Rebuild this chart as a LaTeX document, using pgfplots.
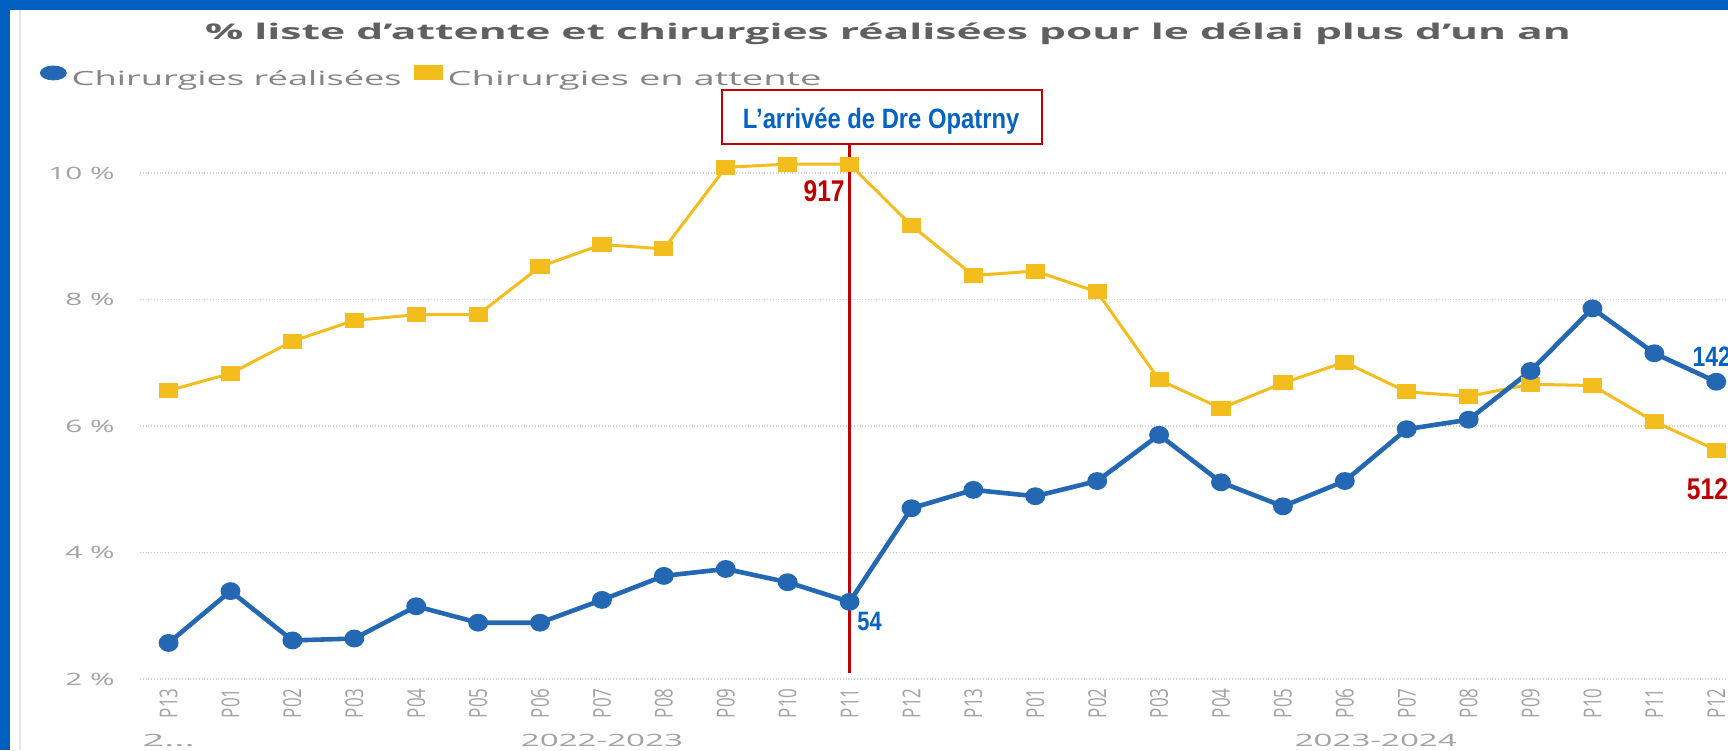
\documentclass[border=0pt]{standalone}
\usepackage{pgfplots}
\pgfplotsset{compat=1.18}
\usepackage{graphicx}
\usepackage{fontspec}
\setmainfont{Open Sans}
\newfontfamily\arialf{Liberation Sans}
\definecolor{frameblue}{HTML}{0060C0}
\definecolor{bluec}{HTML}{2468B4}
\definecolor{yellowc}{HTML}{F2BD1D}
\definecolor{annred}{HTML}{C00000}
\definecolor{annblue}{HTML}{0563C1}
\definecolor{titlegray}{HTML}{606060}
\definecolor{leggray}{HTML}{858585}
\definecolor{tickgray}{HTML}{A3A3A3}
\newcommand\fitw[2]{\resizebox{#1}{\height}{#2}}
\newcommand\yl[1]{\scalebox{1.75}[1]{#1 \%}}
\newcommand\xl[1]{\scalebox{1}[1.45]{#1}}
\newcommand\nar[1]{\scalebox{0.82}[1]{#1}}
\begin{document}
\begin{tikzpicture}
\useasboundingbox (0,0) rectangle (864pt,375pt);
\fill[white] (0,0) rectangle (864pt,375pt);
\fill[frameblue] (0,0) rectangle (5pt,375pt);
\fill[frameblue] (0,370pt) rectangle (864pt,375pt);
\draw[black!10, line width=1pt] (10pt,0) -- (10pt,370pt);
\node[anchor=base, text=titlegray, inner sep=0pt] at (444pt,355pt)
  {\fitw{683pt}{\fontsize{10.8pt}{13pt}\selectfont\bfseries \% liste d'attente et chirurgies réalisées pour le délai plus d'un an}};
\begin{axis}[
  at={(70pt,35.5pt)}, anchor=south west,
  scale only axis, width=794pt, height=253pt,
  xmin=-0.462, xmax=25.19, ymin=2, ymax=10,
  clip=false,
  axis line style={draw=none}, tick style={draw=none}, major tick length=0pt,
  ymajorgrids, major grid style={black!18, densely dotted, line width=0.9pt},
  ytick={2,4,6,8,10},
  yticklabels={\yl{2},\yl{4},\yl{6},\yl{8},\yl{10}},
  yticklabel style={anchor=east, inner sep=0pt, xshift=-12.5pt, text=tickgray, font=\fontsize{8.5pt}{10pt}\selectfont},
  xtick={0,...,25},
  xticklabels={\xl{P13},\xl{P01},\xl{P02},\xl{P03},\xl{P04},\xl{P05},\xl{P06},\xl{P07},\xl{P08},\xl{P09},\xl{P10},\xl{P11},\xl{P12},\xl{P13},\xl{P01},\xl{P02},\xl{P03},\xl{P04},\xl{P05},\xl{P06},\xl{P07},\xl{P08},\xl{P09},\xl{P10},\xl{P11},\xl{P12}},
  xticklabel style={rotate=90, anchor=east, inner sep=0pt, text=tickgray, font=\fontsize{8.5pt}{10pt}\selectfont},
  xticklabel shift=4.5pt,
  legend columns=2,
  legend style={at={(axis description cs:-0.063,1.19)}, anchor=west, draw=none, fill=none,
    inner sep=0pt, outer sep=0pt,
    nodes={inner sep=0pt, text=leggray, font=\fontsize{9.8pt}{12pt}\selectfont},
    /tikz/every odd column/.append style={column sep=2.5pt},
    /tikz/every even column/.append style={column sep=6pt}},
]
\addlegendimage{legend image code/.code={\fill[bluec] (6.5pt,3.2pt) ellipse (6.5pt and 3.5pt);}}
\addlegendentry{\fitw{165pt}{Chirurgies réalisées}}
\addlegendimage{legend image code/.code={\fill[yellowc] (0pt,0pt) rectangle (14pt,6.8pt);}}
\addlegendentry{\fitw{187pt}{Chirurgies en attente}}

\addplot[forget plot, color=yellowc, line width=1.5pt, mark=square*, mark size=3pt, mark options={xscale=1.35}]
coordinates {(0,6.56)(1,6.83)(2,7.34)(3,7.67)(4,7.76)(5,7.76)(6,8.52)(7,8.87)(8,8.80)(9,10.09)(10,10.14)(11,10.14)(12,9.17)(13,8.38)(14,8.45)(15,8.12)(16,6.73)(17,6.28)(18,6.68)(19,7.01)(20,6.54)(21,6.47)(22,6.66)(23,6.64)(24,6.07)(25,5.62)};
\addplot[forget plot, color=bluec, line width=2.3pt, mark=*, mark size=3.3pt, mark options={xscale=1.15}]
coordinates {(0,2.57)(1,3.39)(2,2.61)(3,2.64)(4,3.15)(5,2.89)(6,2.89)(7,3.25)(8,3.63)(9,3.74)(10,3.53)(11,3.22)(12,4.70)(13,4.99)(14,4.89)(15,5.13)(16,5.86)(17,5.11)(18,4.73)(19,5.13)(20,5.95)(21,6.10)(22,6.87)(23,7.86)(24,7.15)(25,6.70)};

\node[text=tickgray, font=\fontsize{8.5pt}{10pt}\selectfont] at (axis cs:0,1.027) {\fitw{26pt}{2...}};
\node[text=tickgray, font=\fontsize{8.5pt}{10pt}\selectfont] at (axis cs:7,1.027) {\fitw{81pt}{2022-2023}};
\node[text=tickgray, font=\fontsize{8.5pt}{10pt}\selectfont] at (axis cs:19.5,1.027) {\fitw{81pt}{2023-2024}};

\draw[annred, line width=1.5pt] (axis cs:11,10.458) -- (axis cs:11,2.09);
\draw[annred, line width=1pt, fill=white] (axis cs:8.94,10.458) rectangle (axis cs:14.11,11.31);
\node[anchor=base, inner sep=0pt, text=annblue, font=\arialf\bfseries\fontsize{14pt}{16pt}\selectfont] at (axis cs:11.51,10.711) {\scalebox{0.85}[1]{L’arrivée de Dre Opatrny}};
\node[anchor=base east, inner sep=0pt, text=annred, font=\arialf\bfseries\fontsize{15pt}{17pt}\selectfont] at (axis cs:10.927,9.542) {\nar{917}};
\node[anchor=base west, inner sep=0pt, text=annblue, font=\arialf\bfseries\fontsize{13.3pt}{15pt}\selectfont] at (axis cs:11.12,2.765) {\nar{54}};
\node[anchor=base west, inner sep=0pt, text=annblue, font=\arialf\bfseries\fontsize{14pt}{16pt}\selectfont] at (axis cs:24.61,6.935) {\nar{142}};
\node[anchor=base west, inner sep=0pt, text=annred, font=\arialf\bfseries\fontsize{15pt}{17pt}\selectfont] at (axis cs:24.52,4.834) {\nar{512}};
\end{axis}
\end{tikzpicture}
\end{document}
